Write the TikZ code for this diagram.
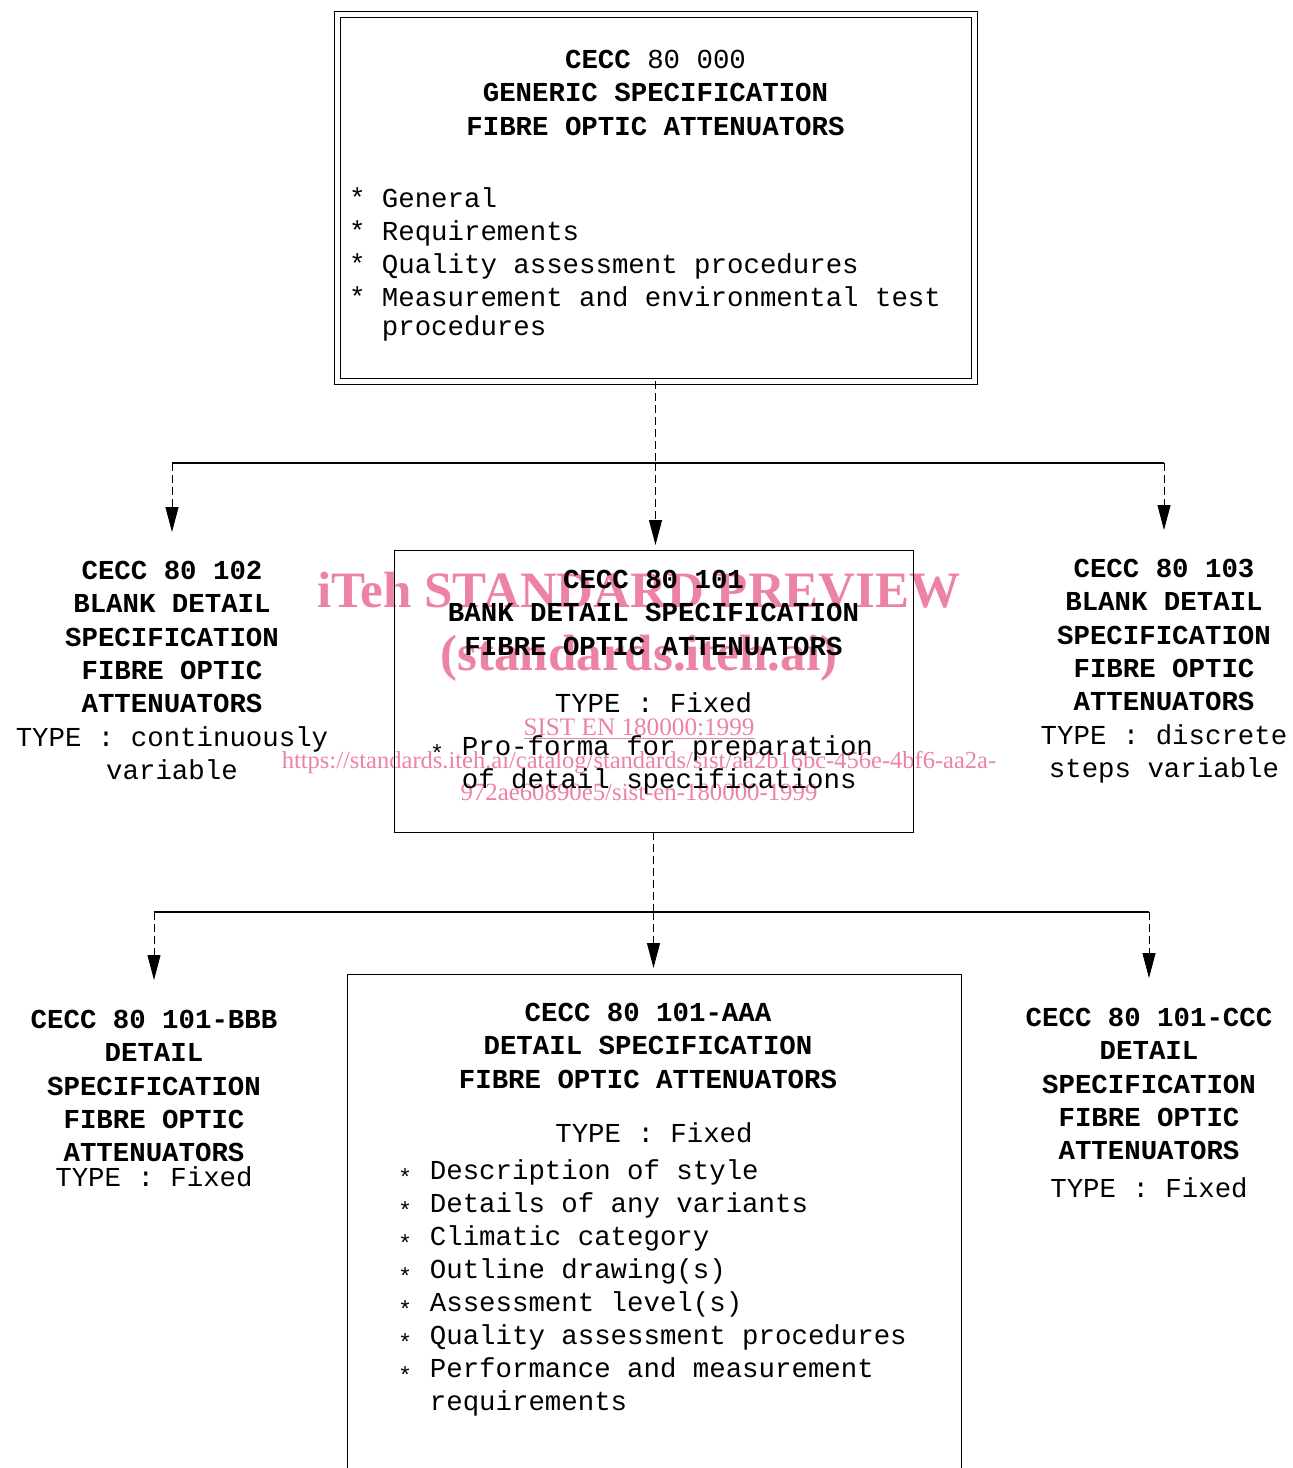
\documentclass[tikz,border=0pt]{standalone}
\usepackage{graphicx}
\usepackage{fontspec}
\setmonofont{Liberation Mono}
\newfontfamily\wmfont{Liberation Serif}
\usepackage{tikz}
\usetikzlibrary{arrows.meta,positioning}
\definecolor{wmpink}{RGB}{236,131,163}
\newcommand{\lstar}{\makebox[0.6em]{\raisebox{-0.2em}{\scalebox{0.85}{*}}}}
\newcommand{\indtwo}{\hspace*{1.2em}}

\begin{document}
\begin{tikzpicture}[x=0.5pt,y=-0.5pt,>={Triangle[width=6.5pt,length=12.5pt]}]
  \useasboundingbox (0,0) rectangle (1293,1468);
  \clip (0,0) rectangle (1293,1468);

\tikzset{every node/.style={font=\ttfamily\fontsize{13.7pt}{16.7pt}\selectfont,inner sep=0pt,outer sep=0pt}}
\tikzset{specbox/.style={draw,line width=0.5pt}}
\tikzset{itemlist/.style={align=left,font=\ttfamily\fontsize{13.7pt}{16.5pt}\selectfont}}
\tikzset{wmark/.style={text=wmpink,font=\wmfont\fontsize{12.4pt}{14pt}\selectfont,anchor=base}}
\tikzset{wmbig/.style={wmark,font=\wmfont\bfseries\fontsize{25.5pt}{28pt}\selectfont}}

  \node[wmbig]  (wmtitle) at (639,607) {iTeh STANDARD PREVIEW};
  \node[wmbig]  (wmsite)  at (639,670) {(standards.iteh.ai)};
  \node[wmark,font=\wmfont\fontsize{12.6pt}{14pt}\selectfont]  (wmcode)  at (639,735) {\underline{SIST EN 180000:1999}};
  \node[wmark,font=\wmfont\fontsize{12.25pt}{14pt}\selectfont]  (wmurl)   at (639,768) {https://standards.iteh.ai/catalog/standards/sist/aa2b16bc-456e-4bf6-aa2a-};
  \node[wmark]  (wmurlb)  at (639,800) {972ae60890e5/sist-en-180000-1999};

  \node[specbox,double,double distance=2.5pt,minimum width=318.5pt,minimum height=183.5pt] (gen) at (655.5,197.5) {};
  \node[below=18pt of gen.north,align=center] (genhead)
    {\textbf{CECC} 80 000\\\textbf{GENERIC SPECIFICATION}\\\textbf{FIBRE OPTIC ATTENUATORS}};
  \node[below right=87pt and 6pt of gen.north west,itemlist] (genlist)
    {* General\\* Requirements\\* Quality assessment procedures\\* Measurement and environmental test\\[-2pt]\indtwo procedures};

  \node[specbox,minimum width=259.5pt,minimum height=141pt] (bank) at (653.5,691) {};
  \node[below=10pt of bank.north,align=center] (bankhead)
    {\textbf{CECC 80 101}\\\textbf{BANK DETAIL SPECIFICATION}\\\textbf{FIBRE OPTIC ATTENUATORS}\\[12pt]TYPE : Fixed};
  \node[below right=93pt and 17.5pt of bank.north west,itemlist] (bankitem)
    {\lstar{} Pro-forma for preparation\\\indtwo of detail specifications};

  \node[anchor=north,align=center] (blank1) at (172,561)
    {\textbf{CECC 80 102}\\\textbf{BLANK DETAIL}\\\textbf{SPECIFICATION}\\\textbf{FIBRE OPTIC}\\\textbf{ATTENUATORS}\\TYPE : continuously\\variable};
  \node[anchor=north,align=center] (blank2) at (1164,559)
    {\textbf{CECC 80 103}\\\textbf{BLANK DETAIL}\\\textbf{SPECIFICATION}\\\textbf{FIBRE OPTIC}\\\textbf{ATTENUATORS}\\TYPE : discrete\\steps variable};

  \node[specbox,minimum width=307pt,minimum height=263pt] (detail) at (654,1237) {};
  \node[below=14.5pt of detail.north,xshift=-3pt,align=center] (detailhead)
    {\textbf{CECC 80 101-AAA}\\\textbf{DETAIL SPECIFICATION}\\\textbf{FIBRE OPTIC ATTENUATORS}};
  \node[below=74.5pt of detail.north] (detailtype) {TYPE : Fixed};
  \node[below right=93pt and 25pt of detail.north west,itemlist] (detaillist)
    {\lstar{} Description of style\\\lstar{} Details of any variants\\\lstar{} Climatic category\\\lstar{} Outline drawing(s)\\\lstar{} Assessment level(s)\\\lstar{} Quality assessment procedures\\\lstar{} Performance and measurement\\\indtwo requirements};

  \node[anchor=north,align=center] (spec1) at (154,1010)
    {\textbf{CECC 80 101-BBB}\\\textbf{DETAIL}\\\textbf{SPECIFICATION}\\\textbf{FIBRE OPTIC}\\\textbf{ATTENUATORS}\\[-4.2pt]TYPE : Fixed};
  \node[anchor=north,align=center] (spec2) at (1149,1008)
    {\textbf{CECC 80 101-CCC}\\\textbf{DETAIL}\\\textbf{SPECIFICATION}\\\textbf{FIBRE OPTIC}\\\textbf{ATTENUATORS}\\[2.3pt]TYPE : Fixed};

  \coordinate[below=41pt of gen.south] (j1);
  \coordinate[below=40pt of bank.south] (j2);

\tikzset{vlink/.style={line width=0.5pt,dash pattern=on 4pt off 2pt}}
\tikzset{hlink/.style={line width=0.9pt}}
\tikzset{drop/.style={vlink,->,shorten >=#1}}
\path (gen)                 edge [vlink] (j1)
      (j1)                  edge [drop=2.5pt] (j1 |- bank.north)
      (blank1.north |- j1)  edge [hlink] (blank2.north |- j1)
      (blank1.north |- j1)  edge [drop=14.5pt] (blank1.north)
      (blank2.north |- j1)  edge [drop=14.5pt] (blank2.north)
      (bank)                edge [vlink] (j2)
      (j2)                  edge [drop=3pt] (j2 |- detail.north)
      (spec1.north |- j2)   edge [hlink] (spec2.north |- j2)
      (spec1.north |- j2)   edge [drop=15pt] (spec1.north)
      (spec2.north |- j2)   edge [drop=15pt] (spec2.north);
\end{tikzpicture}
\end{document}
